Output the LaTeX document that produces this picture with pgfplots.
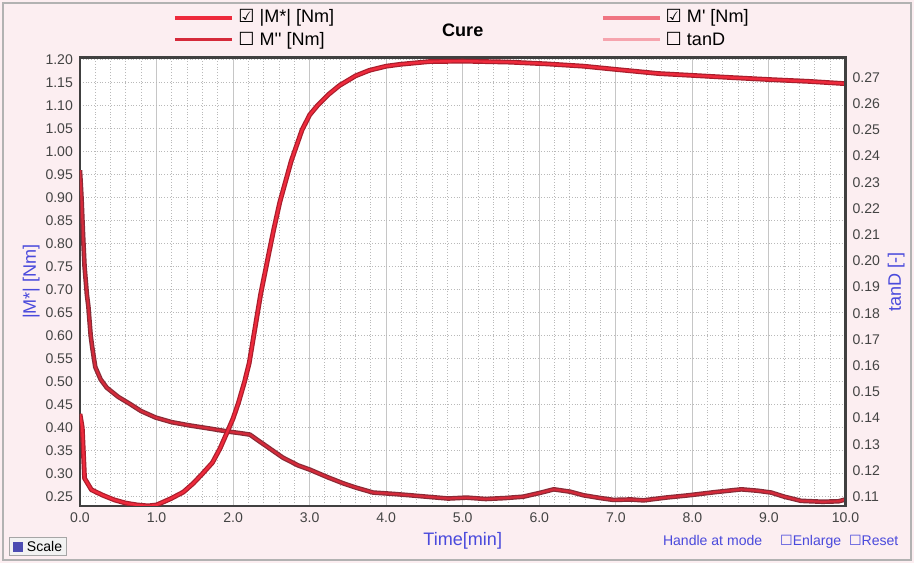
\documentclass[border=0pt]{standalone}
\usepackage{pgfplots}
\pgfplotsset{compat=1.18}
\usepackage{fontspec}
\setmainfont{Liberation Sans}
\newfontfamily\dejavu{DejaVu Sans}
\definecolor{panelbg}{HTML}{FCEEF1}
\definecolor{cureA}{HTML}{EE2A3C}
\definecolor{cureAdark}{HTML}{A81E2C}
\definecolor{cureB}{HTML}{D52A3A}
\definecolor{cureBdark}{HTML}{8A2A36}
\definecolor{mprime}{HTML}{F07482}
\definecolor{tand}{HTML}{F6A4AE}
\definecolor{lblue}{HTML}{4A4ADC}
\definecolor{ticktext}{HTML}{444444}
\begin{document}
\begin{tikzpicture}
\fill[panelbg] (-1.4cm,-1.0cm) rectangle (14.6cm,8.856cm);
\draw[gray!60,line width=0.8pt] (-1.35cm,-0.95cm) rectangle (14.55cm,8.806cm);
\begin{axis}[
  scale only axis, width=13.4cm, height=7.85cm,
  at={(0,0)}, anchor=south west,
  xmin=0, xmax=10, ymin=0.23, ymax=1.205,
  axis background/.style={fill=white},
  axis line style={draw=gray!50!black, line width=1.1pt},
  xtick={0,1,2,3,4,5,6,7,8,9,10},
  ytick={0.25,0.30,0.35,0.40,0.45,0.50,0.55,0.60,0.65,0.70,0.75,0.80,0.85,0.90,0.95,1.00,1.05,1.10,1.15,1.20},
  minor x tick num=4,
  xmajorgrids, xminorgrids, ymajorgrids,
  major x grid style={gray!45, solid, line width=0.5pt},
  minor x grid style={gray!55, densely dotted, line width=0.5pt},
  major y grid style={gray!55, densely dotted, line width=0.6pt},
  tick style={draw=none},
  xticklabel={\pgfmathprintnumber[fixed,fixed zerofill,precision=1,assume math mode=true]{\tick}},
  yticklabel={\pgfmathprintnumber[fixed,fixed zerofill,precision=2,assume math mode=true]{\tick}},
  tick label style={font=\scriptsize, text=ticktext},
  xlabel={Time[min]}, xlabel style={font=\small, text=lblue, yshift=2pt},
  ylabel={|M*| [Nm]}, ylabel style={font=\small, text=lblue, yshift=-4pt},
  title={\textbf{Cure}}, title style={at={(0.5,1)}, anchor=south, yshift=1pt, font=\small},
  legend columns=2,
  legend style={at={(0.5,1)}, anchor=south, yshift=0.5pt, draw=none, fill=none, font=\small,
    /tikz/every even column/.append style={column sep=4.6cm}, row sep=-1pt},
  legend cell align=left,
  legend image code/.code={\draw[#1] (0cm,0cm) -- (1.0cm,0cm);},
]
\addlegendimage{cureA, line width=2.2pt}
\addlegendentry{{\dejavu ☑} |M*| [Nm]}
\addlegendimage{mprime, line width=1.8pt}
\addlegendentry{{\dejavu ☑} M\textquotesingle\ [Nm]}
\addlegendimage{cureB, line width=1.5pt}
\addlegendentry{{\dejavu ☐} M\textquotesingle\textquotesingle\ [Nm]}
\addlegendimage{tand, line width=1.5pt}
\addlegendentry{{\dejavu ☐} tanD}

% decreasing curve
\addplot[forget plot, cureBdark, line width=2.3pt, line join=round] coordinates {
(0.0,0.96) (0.02,0.90) (0.04,0.82) (0.06,0.75) (0.09,0.69) (0.11,0.663) (0.14,0.60) (0.16,0.575) (0.2,0.532) (0.27,0.505) (0.35,0.487) (0.5,0.467) (0.65,0.452) (0.8,0.436) (0.99,0.422) (1.2,0.412) (1.43,0.405) (1.7,0.398) (1.92,0.392) (2.1,0.388) (2.22,0.385) (2.33,0.372) (2.46,0.357) (2.65,0.335) (2.85,0.318) (3.0,0.309) (3.24,0.292) (3.44,0.279) (3.6,0.27) (3.83,0.259) (4.1,0.256) (4.32,0.253) (4.6,0.249) (4.81,0.246) (5.05,0.248) (5.3,0.245) (5.55,0.247) (5.79,0.250) (6.0,0.258) (6.19,0.266) (6.4,0.261) (6.58,0.253) (6.8,0.247) (6.97,0.243) (7.2,0.244) (7.36,0.242) (7.65,0.248) (7.95,0.253) (8.3,0.260) (8.64,0.266) (8.85,0.263) (9.03,0.259) (9.2,0.250) (9.42,0.241) (9.7,0.239) (9.91,0.240) (10,0.244)};
\addplot[forget plot, cureB, line width=1.1pt, line join=round] coordinates {
(0.0,0.96) (0.02,0.90) (0.04,0.82) (0.06,0.75) (0.09,0.69) (0.11,0.663) (0.14,0.60) (0.16,0.575) (0.2,0.532) (0.27,0.505) (0.35,0.487) (0.5,0.467) (0.65,0.452) (0.8,0.436) (0.99,0.422) (1.2,0.412) (1.43,0.405) (1.7,0.398) (1.92,0.392) (2.1,0.388) (2.22,0.385) (2.33,0.372) (2.46,0.357) (2.65,0.335) (2.85,0.318) (3.0,0.309) (3.24,0.292) (3.44,0.279) (3.6,0.27) (3.83,0.259) (4.1,0.256) (4.32,0.253) (4.6,0.249) (4.81,0.246) (5.05,0.248) (5.3,0.245) (5.55,0.247) (5.79,0.250) (6.0,0.258) (6.19,0.266) (6.4,0.261) (6.58,0.253) (6.8,0.247) (6.97,0.243) (7.2,0.244) (7.36,0.242) (7.65,0.248) (7.95,0.253) (8.3,0.260) (8.64,0.266) (8.85,0.263) (9.03,0.259) (9.2,0.250) (9.42,0.241) (9.7,0.239) (9.91,0.240) (10,0.244)};

% cure S-curve
\addplot[forget plot, cureAdark, line width=2.4pt, line join=round] coordinates {
(0,0.43) (0.03,0.40) (0.06,0.29) (0.15,0.265) (0.3,0.253) (0.45,0.243) (0.6,0.236) (0.75,0.232) (0.89,0.230) (1.0,0.232) (1.19,0.246) (1.35,0.260) (1.48,0.279) (1.6,0.300) (1.73,0.324) (1.83,0.355) (1.92,0.389) (2.0,0.420) (2.07,0.454) (2.15,0.500) (2.21,0.540) (2.3,0.630) (2.36,0.690) (2.46,0.773) (2.53,0.830) (2.61,0.890) (2.76,0.980) (2.9,1.047) (3.0,1.080) (3.1,1.100) (3.25,1.125) (3.39,1.144) (3.6,1.165) (3.78,1.177) (4.0,1.186) (4.18,1.190) (4.56,1.196) (5.0,1.197) (5.6,1.195) (6.1,1.191) (6.58,1.186) (7.0,1.179) (7.56,1.170) (8.0,1.166) (8.54,1.161) (9.0,1.157) (9.52,1.153) (10,1.148)};
\addplot[forget plot, cureA, line width=1.2pt, line join=round] coordinates {
(0,0.43) (0.03,0.40) (0.06,0.29) (0.15,0.265) (0.3,0.253) (0.45,0.243) (0.6,0.236) (0.75,0.232) (0.89,0.230) (1.0,0.232) (1.19,0.246) (1.35,0.260) (1.48,0.279) (1.6,0.300) (1.73,0.324) (1.83,0.355) (1.92,0.389) (2.0,0.420) (2.07,0.454) (2.15,0.500) (2.21,0.540) (2.3,0.630) (2.36,0.690) (2.46,0.773) (2.53,0.830) (2.61,0.890) (2.76,0.980) (2.9,1.047) (3.0,1.080) (3.1,1.100) (3.25,1.125) (3.39,1.144) (3.6,1.165) (3.78,1.177) (4.0,1.186) (4.18,1.190) (4.56,1.196) (5.0,1.197) (5.6,1.195) (6.1,1.191) (6.58,1.186) (7.0,1.179) (7.56,1.170) (8.0,1.166) (8.54,1.161) (9.0,1.157) (9.52,1.153) (10,1.148)};
\end{axis}
\begin{axis}[
  scale only axis, width=13.4cm, height=7.85cm,
  at={(0,0)}, anchor=south west,
  xmin=0, xmax=10, ymin=0.1065, ymax=0.2776,
  axis x line=none, axis y line*=right,
  axis line style={draw=gray!50!black, line width=1.1pt},
  ytick={0.11,0.12,0.13,0.14,0.15,0.16,0.17,0.18,0.19,0.20,0.21,0.22,0.23,0.24,0.25,0.26,0.27},
  yticklabel={\pgfmathprintnumber[fixed,fixed zerofill,precision=2,assume math mode=true]{\tick}},
  tick label style={font=\scriptsize, text=ticktext},
  tick style={draw=none},
  ylabel={tanD [-]}, ylabel style={font=\small, text=lblue, yshift=3pt},
]
\addplot[draw=none] coordinates {(0,0.2)};
\end{axis}
\node[draw=gray!70, fill=gray!10, anchor=south west, font=\scriptsize, inner sep=2pt] at (-1.25cm,-0.88cm) {\textcolor{gray!60!blue}{\rule{5pt}{5pt}}\ Scale};
\node[anchor=south east, font=\scriptsize, text=lblue] at (14.45cm,-0.86cm) {Handle at mode \quad {\dejavu ☐}Enlarge \ {\dejavu ☐}Reset};
\end{tikzpicture}
\end{document}
